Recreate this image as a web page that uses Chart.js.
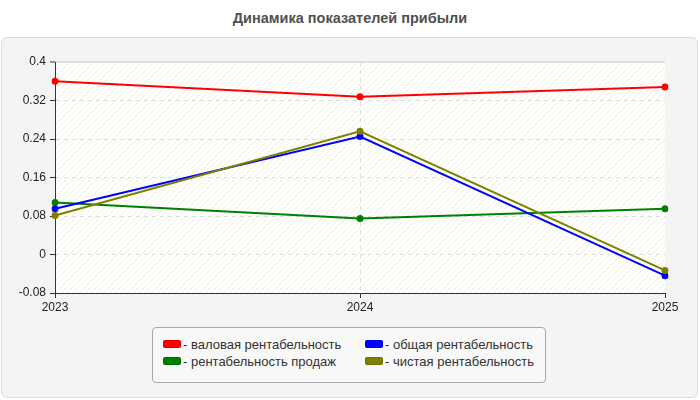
<!DOCTYPE html>
<html>
<head>
<meta charset="utf-8">
<script src="https://cdn.jsdelivr.net/npm/chart.js@4/dist/chart.umd.min.js"></script>
<style>
  html, body { margin: 0; padding: 0; background: #ffffff; }
  #wrap { position: relative; width: 700px; height: 400px; overflow: hidden; font-family: "Liberation Sans", Arial, sans-serif; }
  #title { position: absolute; left: 0; top: 10px; width: 700px; text-align: center; font-weight: bold; font-size: 14.5px; color: #505050; }
  #panel { position: absolute; left: 1px; top: 37px; width: 695px; height: 359px; background: #f4f4f4; border: 1px solid #dcdcdc; border-radius: 6px; }
  #chart { position: absolute; left: 0; top: 0; }
  #legend { position: absolute; left: 152px; top: 327px; width: 392px; height: 54px; border: 1px solid #a8a8a8; border-radius: 4px; background: #f8f8f8; }
  .item { position: absolute; font-size: 13px; color: #333; line-height: 15px; white-space: nowrap; }
  .sw { display: inline-block; width: 16px; height: 6px; border-radius: 2px; margin-right: 2px; vertical-align: 1px; border: 1px solid rgba(0,0,0,0.15); }
</style>
</head>
<body>
<div id="wrap">
  <div id="title">Динамика показателей прибыли</div>
  <div id="panel"></div>
  <canvas id="chart" width="700" height="400"></canvas>
  <div id="legend"></div>
</div>
<script>
const categories = ["2023", "2024", "2025"];
const seriesNames = ["валовая рентабельность", "общая рентабельность", "рентабельность продаж", "чистая рентабельность"];
const grossMargin = [0.360, 0.328, 0.348];
const totalMargin = [0.095, 0.245, -0.044];
const salesMargin = [0.108, 0.075, 0.095];
const netMargin = [0.081, 0.256, -0.033];
const seriesColors = ["#ff0000", "#0000ff", "#008000", "#808000"];
const yTickMin = -0.08, yTickMax = 0.4, yTickStep = 0.08;

const seriesValues = [grossMargin, totalMargin, salesMargin, netMargin];
// drawing order: olive on top, then blue, green, red
const drawOrder = [4, 2, 3, 1];

const datasets = seriesValues.map((vals, i) => ({
  label: "- " + seriesNames[i],
  data: vals,
  borderColor: seriesColors[i],
  backgroundColor: seriesColors[i],
  borderWidth: 2,
  pointRadius: 3.5,
  pointHoverRadius: 3.5,
  pointBorderWidth: 0,
  tension: 0,
  fill: false,
  order: drawOrder[i]
}));

// hatch pattern for plot background
function makePattern(ctx) {
  const n = 6;
  const c = document.createElement('canvas');
  c.width = n; c.height = n;
  const g = c.getContext('2d');
  g.fillStyle = '#fefefa';
  g.fillRect(0, 0, n, n);
  g.strokeStyle = '#efefec';
  g.lineWidth = 1;
  g.beginPath();
  g.moveTo(-1, n + 1); g.lineTo(n + 1, -1);
  g.moveTo(-1, 1); g.lineTo(1, -1);
  g.moveTo(n - 1, n + 1); g.lineTo(n + 1, n - 1);
  g.stroke();
  return ctx.createPattern(c, 'repeat');
}

const bgPlugin = {
  id: 'plotBg',
  beforeDraw(chart) {
    const {ctx, chartArea: a} = chart;
    ctx.save();
    ctx.fillStyle = makePattern(ctx);
    ctx.fillRect(a.left, a.top, a.right - a.left, a.bottom - a.top);
    ctx.restore();
  }
};

const fmt = v => String(Math.round(v * 100) / 100);

new Chart(document.getElementById('chart'), {
  type: 'line',
  data: { labels: categories, datasets },
  plugins: [bgPlugin],
  options: {
    responsive: false,
    animation: false,
    events: [],
    layout: { padding: { top: 62, left: 0, right: 35, bottom: 87 } },
    plugins: { legend: { display: false }, title: { display: false }, tooltip: { enabled: false } },
    scales: {
      x: {
        offset: false,
        afterFit(scale) { scale.height = 20; },
        grid: {
          color: ctx => ctx.index === 1 ? '#dedede' : 'rgba(0,0,0,0)',
          tickColor: '#333',
          tickLength: 5,
          drawTicks: true
        },
        border: { color: '#333', width: 1, dash: [4, 4] },
        ticks: { color: '#222', font: { family: "Liberation Sans, Arial, sans-serif", size: 12 }, padding: 2, maxRotation: 0 }
      },
      y: {
        min: yTickMin,
        max: yTickMax,
        afterFit(scale) { scale.width = 55; },
        afterBuildTicks(scale) {
          const t = [];
          for (let k = 0; yTickMin + k * yTickStep <= yTickMax + 1e-9; k++) t.push({ value: Math.round((yTickMin + k * yTickStep) * 100) / 100 });
          scale.ticks = t;
        },
        grid: {
          color: ctx => ctx.index === 0 ? 'rgba(0,0,0,0)' : '#dedede',
          lineWidth: ctx => (ctx.tick && Math.abs(ctx.tick.value - yTickMax) < 1e-6) ? 2 : 1,
          tickColor: '#333',
          tickLength: 5,
          tickWidth: 1
        },
        border: { color: '#333', width: 1, dash: ctx => (ctx.tick && Math.abs(ctx.tick.value - yTickMax) < 1e-6) ? [] : [4, 4] },
        ticks: { color: '#222', font: { family: "Liberation Sans, Arial, sans-serif", size: 12 }, padding: 4, callback: v => fmt(v) }
      }
    }
  }
});

// legend (HTML)
const legend = document.getElementById('legend');
const legendOrder = [0, 1, 2, 3];
const pos = [[10, 9], [212, 9], [10, 26], [212, 26]];
legendOrder.forEach((si, k) => {
  const d = document.createElement('div');
  d.className = 'item';
  d.style.left = pos[k][0] + 'px';
  d.style.top = pos[k][1] + 'px';
  const s = document.createElement('span');
  s.className = 'sw';
  s.style.background = seriesColors[si];
  d.appendChild(s);
  d.appendChild(document.createTextNode('- ' + seriesNames[si]));
  legend.appendChild(d);
});
</script>
</body>
</html>
